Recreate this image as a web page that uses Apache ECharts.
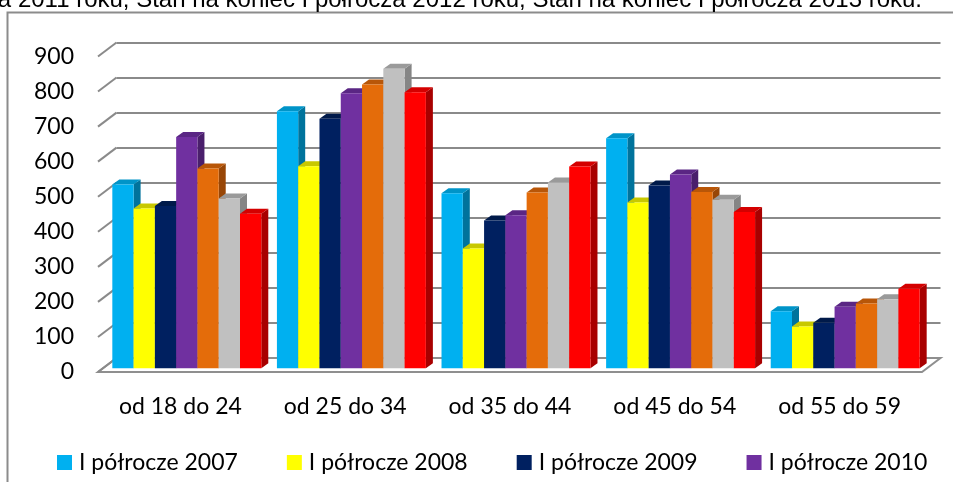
<!DOCTYPE html>
<html>
<head>
<meta charset="utf-8">
<script src="https://cdn.jsdelivr.net/npm/echarts@6/dist/echarts.min.js"></script>
<style>
  html, body { margin: 0; padding: 0; background: #fff; }
  #chart { width: 953px; height: 482px; }
</style>
</head>
<body>
<div id="chart"></div>
<script>
const categories = ['od 18 do 24', 'od 25 do 34', 'od 35 do 44', 'od 45 do 54', 'od 55 do 59'];
const seriesNames = ['I półrocze 2007', 'I półrocze 2008', 'I półrocze 2009', 'I półrocze 2010',
                     'I półrocze 2011', 'I półrocze 2012', 'I półrocze 2013'];
const h2007 = [525, 734, 500, 657, 163];
const h2008 = [456, 577, 342, 473, 119];
const h2009 = [463, 712, 422, 522, 130];
const h2010 = [660, 785, 437, 553, 176];
const h2011 = [570, 810, 502, 503, 185];
const h2012 = [485, 855, 530, 481, 197];
const h2013 = [441, 788, 576, 446, 227];
const yTicks = [0, 100, 200, 300, 400, 500, 600, 700, 800, 900];
const titleText = 'Stan na koniec I półrocza 2011 roku, Stan na koniec I półrocza 2012 roku, Stan na koniec I półrocza 2013 roku.';

const values = [h2007, h2008, h2009, h2010, h2011, h2012, h2013];
// front face / top face / side face
const palette = [
  ['#00B0F0', '#0094c8', '#00739c'],
  ['#FFFF00', '#c8c800', '#a8a800'],
  ['#002060', '#001a4a', '#001030'],
  ['#7030A0', '#5a2684', '#4a1f6c'],
  ['#E46C0A', '#b85608', '#984606'],
  ['#C0C0C0', '#9a9a9a', '#858585'],
  ['#FF0000', '#d40000', '#a80000'],
];

const FONT = 'Lato';
// depth of the whole floor and of one bar, in px
const DEPTH = [18.5, -14];
const BAR_DEPTH = [7, -5];
const GROUP_FILL = 0.905;

const chart = echarts.init(document.getElementById('chart'), null, { renderer: 'canvas' });

const valueAxis = (idx, showLabels) => ({
  type: 'value', gridIndex: idx, min: 0, max: 900, interval: 100,
  axisLine: { show: false }, axisTick: { show: false },
  axisLabel: showLabels
    ? { show: true, margin: 24, color: '#000', fontFamily: FONT, fontSize: 23 }
    : { show: false },
  splitLine: idx === 1
    ? { show: true, lineStyle: { color: '#8a8a8a', width: 2 } }
    : { show: false },
});

const catAxis = (idx, showLabels) => ({
  type: 'category', gridIndex: idx, data: categories,
  axisLine: { show: false }, axisTick: { show: false },
  axisLabel: showLabels
    ? { show: true, margin: 23, color: '#000', fontFamily: FONT, fontSize: 23 }
    : { show: false },
});

// front plane: floor edge, diagonals, labels
const floorSeries = {
  type: 'custom', xAxisIndex: 0, yAxisIndex: 0, z: 1, silent: true,
  data: [[0, 0]],
  renderItem(params, api) {
    const cs = params.coordSys;
    const y0 = api.coord([0, 0])[1];
    const x1 = cs.x, x2 = cs.x + cs.width;
    return {
      type: 'polygon',
      shape: { points: [[x1, y0], [x2, y0], [x2 + DEPTH[0], y0 + DEPTH[1]], [x1 + DEPTH[0], y0 + DEPTH[1]]] },
      style: { fill: '#fff', stroke: '#8f8f8f', lineWidth: 2 },
    };
  },
};

const diagSeries = {
  type: 'custom', xAxisIndex: 0, yAxisIndex: 0, z: 2, silent: true,
  data: yTicks.map(v => [0, v]),
  renderItem(params, api) {
    const cs = params.coordSys;
    const y = api.coord([0, api.value(1)])[1];
    return {
      type: 'line',
      shape: { x1: cs.x, y1: y, x2: cs.x + DEPTH[0], y2: y + DEPTH[1] },
      style: { stroke: '#8a8a8a', lineWidth: 2 },
    };
  },
};

const barSeries = values.map((arr, si) => ({
  type: 'custom', name: seriesNames[si], xAxisIndex: 2, yAxisIndex: 2, z: 3,
  itemStyle: { color: palette[si][0] },
  data: arr.map((v, i) => [i, v]),
  renderItem(params, api) {
    const band = api.size([1, 0])[0];
    const groupW = band * GROUP_FILL;
    const bw = groupW / values.length;
    const base = api.coord([api.value(0), 0]);
    const top = api.coord([api.value(0), api.value(1)]);
    const x0 = base[0] - groupW / 2 + si * bw;
    const yT = top[1], yB = base[1];
    const [dx, dy] = BAR_DEPTH;
    const c = palette[si];
    return {
      type: 'group',
      children: [
        { type: 'polygon',
          shape: { points: [[x0 + bw, yT], [x0 + bw + dx, yT + dy], [x0 + bw + dx, yB + dy], [x0 + bw, yB]] },
          style: { fill: c[2] } },
        { type: 'polygon',
          shape: { points: [[x0, yT], [x0 + bw, yT], [x0 + bw + dx, yT + dy], [x0 + dx, yT + dy]] },
          style: { fill: c[1] } },
        { type: 'rect',
          shape: { x: x0, y: yT, width: bw, height: yB - yT },
          style: { fill: c[0] } },
      ],
    };
  },
}));

chart.setOption({
  animation: false,
  backgroundColor: '#fff',
  grid: [
    { left: 98, right: 31, top: 56.5, bottom: 110 },      // front plane
    { left: 116.5, right: 12.5, top: 42.5, bottom: 124 }, // back wall
    { left: 104.5, right: 25.5, top: 53, bottom: 113.7 }, // bar fronts
  ],
  xAxis: [catAxis(0, true), catAxis(1, false), catAxis(2, false)],
  yAxis: [valueAxis(0, true), valueAxis(1, false), valueAxis(2, false)],
  legend: {
    data: seriesNames,
    left: 52, top: 446, width: 900,
    icon: 'rect', itemWidth: 15, itemHeight: 15, itemGap: 49,
    textStyle: { color: '#000', fontFamily: FONT, fontSize: 23, padding: [0, 0, 0, 2] },
  },
  graphic: [
    { type: 'rect', z: -1, silent: true,
      shape: { x: 7.5, y: 12.5, width: 1000, height: 520 },
      style: { fill: 'none', stroke: '#8c8c8c', lineWidth: 2 } },
    { type: 'text', x: 922, y: 12, silent: true,
      style: { text: titleText, align: 'right', verticalAlign: 'bottom',
               fill: '#000', font: '24px "Liberation Sans", Arial, sans-serif' } },
  ],
  series: [floorSeries, diagSeries, ...barSeries],
});
</script>
</body>
</html>
